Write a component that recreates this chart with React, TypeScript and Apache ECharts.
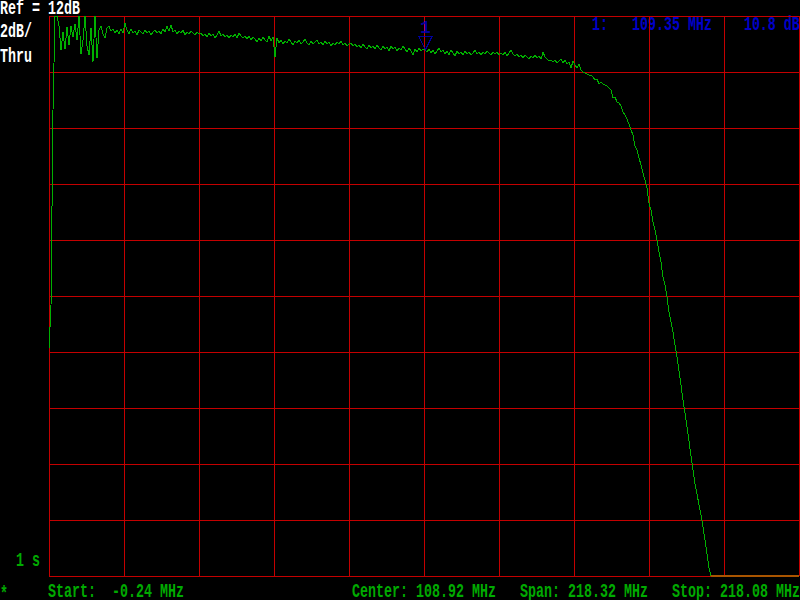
import React, { useEffect, useRef } from "react";
import * as echarts from "echarts";

// ---- instrument settings ----
const FREQ_START = -0.24; // MHz
const FREQ_STOP = 218.08; // MHz
const REF_LEVEL = 12; // dB (top of screen)
const DB_PER_DIV = 2;
const DIVS_X = 10;
const DIVS_Y = 10;
const SWEEP_TIME = "1 s";
const MODE = "Thru";

// ---- marker ----
const MARKER_ID = "1";
const MARKER_FREQ = 109.35; // MHz
const MARKER_DB = 10.8; // dB

// ---- trace (dB), evenly spaced sweep points from FREQ_START to FREQ_STOP ----
const TRACE_RISE = [0.14, 1.64, 8.64, 12.0];
const TRACE_NOISY = [
  12.0, 11.64, 10.79, 11.43, 10.82, 11.61, 10.96, 11.64, 11.25, 11.71, 11.14,
  12.0, 10.64, 11.14, 12.0, 10.93, 10.61, 11.57, 10.36, 12.0, 10.5, 11.5,
];
const TRACE_FLAT_A = [
  11.64, 11.36, 11.21, 11.57, 11.64, 11.46, 11.54, 11.39, 11.5, 11.36, 11.54, 11.39,
  11.75, 11.5, 11.36, 11.54, 11.39, 11.46, 11.32, 11.5, 11.43, 11.36, 11.5, 11.39,
  11.46, 11.32, 11.43, 11.5, 11.39, 11.46, 11.36, 11.54, 11.43, 11.64, 11.46, 11.68,
  11.43, 11.5, 11.36, 11.46, 11.39, 11.5, 11.32, 11.43, 11.36, 11.46, 11.39, 11.32,
  11.43, 11.36,
];
const TRACE_FLAT_B = [
  11.39, 11.29, 11.36, 11.25, 11.39, 11.29, 11.36, 11.21, 11.32, 11.46, 11.29, 11.36,
  11.25, 11.32, 11.21, 11.32, 11.25, 11.36, 11.21, 11.39, 11.29, 11.21, 11.29, 11.18,
  11.29, 11.14, 11.25, 11.18, 11.07, 11.21, 11.11, 11.25, 11.14, 11.07, 11.29, 11.11,
  11.25,
  10.54, 11.21, 11.04, 11.14, 11.0, 11.11, 11.04, 11.18, 11.07, 10.96, 11.11, 11.04,
  11.14, 11.0, 11.07, 11.18, 11.04, 10.96, 11.11, 11.0, 11.07, 11.14, 11.0, 11.07,
  10.96, 11.11, 11.0, 11.07, 10.93, 11.04, 10.96, 11.07, 11.0, 11.11, 10.96, 11.04,
  10.93, 11.0,
];
const TRACE_FLAT_C = [
  11.04, 10.93, 11.0, 10.89, 10.96, 10.86, 11.0, 10.89, 10.82, 10.96, 10.86, 10.93,
  10.82, 10.96, 10.86, 10.79, 10.93, 10.82, 10.89, 10.75, 10.93, 10.82, 10.89, 10.75,
  10.86, 10.79, 10.93, 10.82, 10.71, 10.86, 10.75, 10.61, 10.82, 10.71, 10.86, 10.75,
  10.82, 10.79,
  10.71, 10.82, 10.68, 10.79, 10.64, 10.75, 10.86, 10.71, 10.79, 10.64, 10.75, 10.61,
  10.79, 10.68, 10.57, 10.75, 10.64, 10.71, 10.61, 10.75, 10.64, 10.71, 10.61, 10.68,
  10.79, 10.64, 10.71, 10.61, 10.71, 10.64, 10.75, 10.68, 10.61, 10.71, 10.64, 10.71,
  10.61,
];
const TRACE_KNEE = [
  10.68, 10.61, 10.71, 10.57, 10.68, 10.79, 10.64, 10.57, 10.64, 10.54, 10.61, 10.5,
  10.61, 10.54, 10.46, 10.57, 10.5, 10.61, 10.5, 10.57, 10.46, 10.71, 10.54, 10.46,
  10.39, 10.43, 10.36, 10.43, 10.32, 10.39, 10.46, 10.32, 10.43, 10.29, 10.36, 10.14,
  10.39,
];
const TRACE_ROLLOFF = [
  10.25, 10.14, 10.29, 10.07, 10.0, 9.96, 9.93, 9.89, 9.89, 9.82, 9.71, 9.75, 9.57,
  9.64, 9.57, 9.54, 9.5, 9.43, 9.36, 9.07, 9.11, 8.93, 8.89, 8.79, 8.57, 8.46, 8.32,
  8.14, 7.93, 7.75, 7.36, 7.21, 6.93, 6.68, 6.39, 6.14, 5.86, 5.32, 5.07, 4.64, 4.36,
  4.0, 3.57, 3.21, 2.68, 2.39, 1.96, 1.43, 1.07, 0.71, 0.25, -0.18, -0.68, -1.18,
  -1.71, -2.18, -2.68, -3.18, -3.71, -4.21, -4.71, -5.07, -5.46, -5.82, -6.25, -6.71,
  -7.21, -7.71,
];
// below the bottom of the screen: the instrument pins the trace to the bottom line
const TRACE_PINNED = [
  -8, -8, -8, -8, -8, -8, -8, -8, -8, -8, -8, -8, -8, -8, -8, -8, -8, -8, -8, -8, -8,
  -8, -8, -8, -8, -8, -8, -8, -8, -8, -8, -8, -8, -8, -8, -8, -8, -8, -8, -8, -8, -8,
  -8, -8, -8,
];

const TRACE_DB = [
  ...TRACE_RISE,
  ...TRACE_NOISY,
  ...TRACE_FLAT_A,
  ...TRACE_FLAT_B,
  ...TRACE_FLAT_C,
  ...TRACE_KNEE,
  ...TRACE_ROLLOFF,
  ...TRACE_PINNED,
];

// ---- colours ----
const BG = "#000000";
const GRID_RED = "#c40000";
const TRACE_GREEN = "#00b000";
const TEXT_GREEN = "#00aa00";
const PINNED_BROWN = "#aa5500";
const MARKER_BLUE = "#0000c8";
const WHITE = "#ffffff";

const FONT = 'bold 13.333px "Liberation Mono", "DejaVu Sans Mono", monospace';

export default function App() {
  const ref = useRef<HTMLDivElement>(null);

  useEffect(() => {
    if (!ref.current) return;
    const chart = echarts.init(ref.current, undefined, { renderer: "svg" });

    const bottom = REF_LEVEL - DB_PER_DIV * DIVS_Y;
    const n = TRACE_DB.length;
    const step = (FREQ_STOP - FREQ_START) / (n - 1);
    const freqs = TRACE_DB.map((_, i) => FREQ_START + i * step);
    const traceData = TRACE_DB.map((v, i) => [freqs[i], v]);
    const pinnedData = TRACE_DB.map((v, i) => [freqs[i], v <= bottom ? v : "-"]);

    const center = (FREQ_START + FREQ_STOP) / 2;
    const span = FREQ_STOP - FREQ_START;

    const text = (
      s: string,
      x: number,
      capCenter: number,
      fill: string,
      z = 10
    ) => ({
      type: "text",
      x,
      y: capCenter + 1.3,
      scaleY: 1.55,
      z,
      silent: true,
      style: {
        text: s,
        fill,
        font: FONT,
        align: "left",
        verticalAlign: "middle",
      },
    });

    const markerLine = `${MARKER_ID}:   ${MARKER_FREQ.toFixed(2)} MHz    ${MARKER_DB.toFixed(1)} dB`;

    chart.setOption({
      animation: false,
      backgroundColor: BG,
      grid: { left: 49, top: 16, width: 750, height: 560, containLabel: false },
      xAxis: [
        {
          type: "value",
          min: FREQ_START,
          max: FREQ_STOP,
          show: false,
        },
        {
          type: "value",
          min: 0,
          max: DIVS_X,
          interval: 1,
          axisLine: { show: false },
          axisTick: { show: false },
          axisLabel: { show: false },
          splitLine: { show: true, lineStyle: { color: GRID_RED, width: 1 } },
        },
      ],
      yAxis: {
        type: "value",
        min: bottom,
        max: REF_LEVEL,
        interval: DB_PER_DIV,
        axisLine: { show: false },
        axisTick: { show: false },
        axisLabel: { show: false },
        splitLine: { show: true, lineStyle: { color: GRID_RED, width: 1 } },
      },
      series: [
        {
          type: "line",
          xAxisIndex: 0,
          data: traceData,
          showSymbol: false,
          silent: true,
          clip: true,
          lineStyle: { color: TRACE_GREEN, width: 1 },
          itemStyle: { color: TRACE_GREEN },
          z: 3,
        },
        {
          type: "line",
          xAxisIndex: 0,
          data: pinnedData,
          showSymbol: false,
          silent: true,
          clip: false,
          lineStyle: { color: PINNED_BROWN, width: 1.5 },
          itemStyle: { color: PINNED_BROWN },
          z: 4,
        },
        {
          type: "scatter",
          xAxisIndex: 0,
          data: [[MARKER_FREQ, MARKER_DB]],
          symbol: "path://M0,0 L14,0 L7,13 Z",
          symbolSize: [13, 13],
          symbolOffset: [0, -6.5],
          silent: true,
          itemStyle: { color: "rgba(0,0,0,0)", borderColor: MARKER_BLUE, borderWidth: 1 },
          label: {
            show: true,
            position: "top",
            distance: -1,
            formatter: MARKER_ID,
            color: MARKER_BLUE,
            fontFamily: '"Liberation Mono", monospace',
            fontWeight: "bold",
            fontSize: 18,
          },
          z: 5,
        },
      ],
      graphic: {
        elements: [
          text(`Ref = ${REF_LEVEL}dB`, 0, 7.5, WHITE),
          text(`${DB_PER_DIV}dB/`, 0, 30.5, WHITE),
          text(MODE, 0, 55.5, WHITE),
          text(markerLine, 592, 23, MARKER_BLUE, -1),
          text(SWEEP_TIME, 16, 559.5, TEXT_GREEN),
          text("*", 0, 593, TEXT_GREEN),
          text(`Start:  ${FREQ_START.toFixed(2)} MHz`, 48, 590.5, TEXT_GREEN),
          text(`Center: ${center.toFixed(2)} MHz`, 352, 590.5, TEXT_GREEN),
          text(`Span: ${span.toFixed(2)} MHz`, 520, 590.5, TEXT_GREEN),
          text(`Stop: ${FREQ_STOP.toFixed(2)} MHz`, 672, 590.5, TEXT_GREEN),
        ],
      },
    });

    return () => chart.dispose();
  }, []);

  return (
    <>
      <style>{`#sa-chart svg path { shape-rendering: crispEdges; }`}</style>
      <div
        id="sa-chart"
        ref={ref}
        style={{
          position: "fixed",
          left: 0,
          top: 0,
          width: 800,
          height: 600,
          background: BG,
        }}
      />
    </>
  );
}
